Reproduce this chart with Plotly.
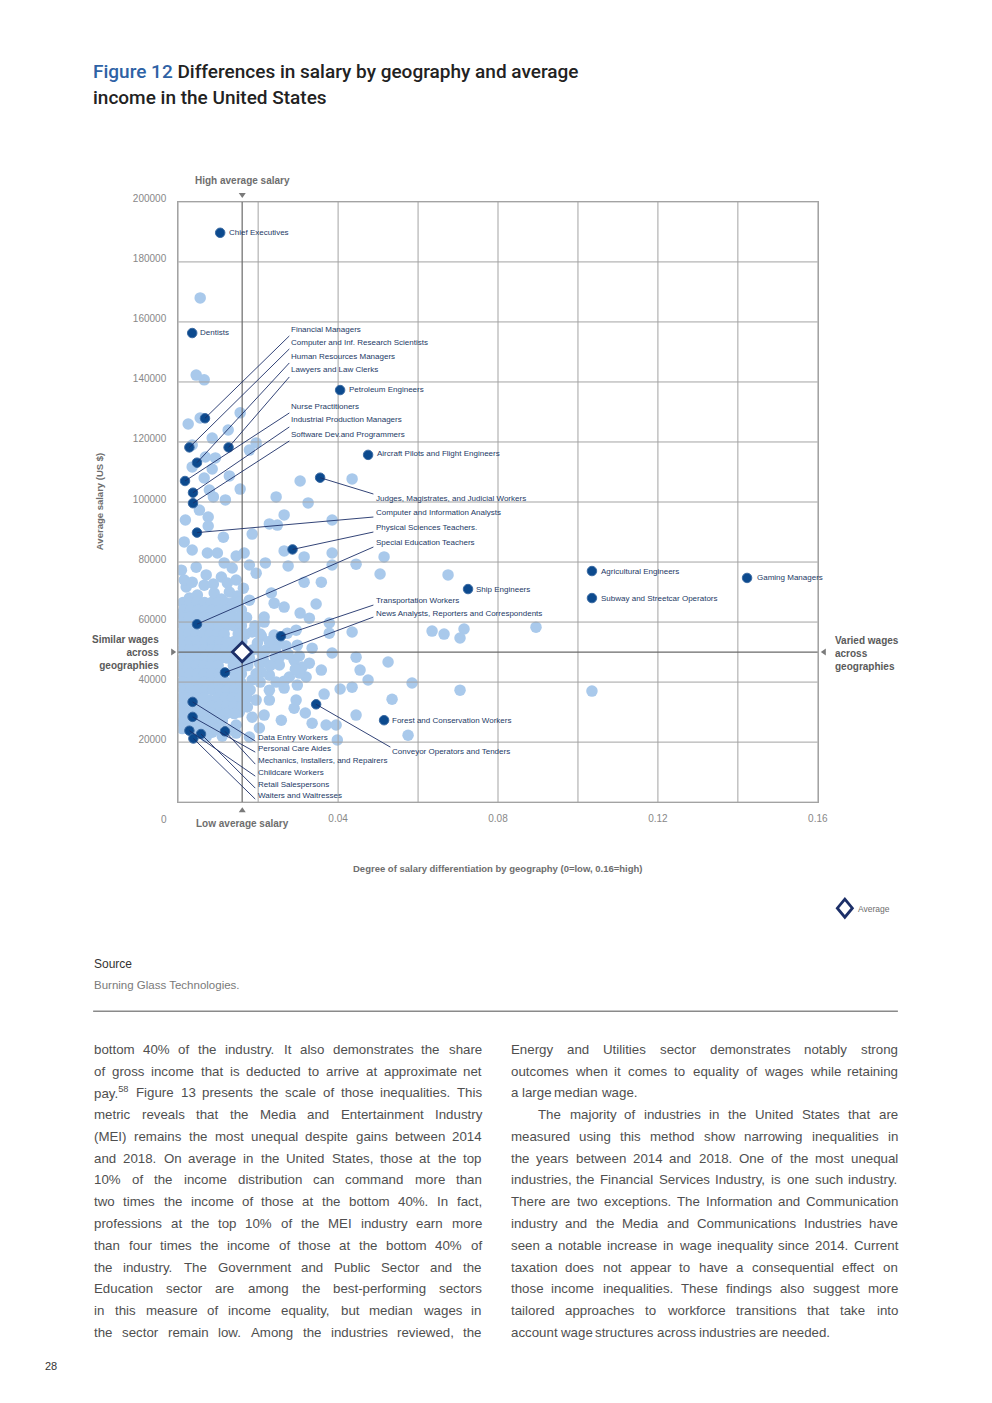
import plotly.graph_objects as go

# ---------------- DATA ----------------
x_tick_vals = [0.04, 0.08, 0.12, 0.16]
x_tick_text = ["0.04", "0.08", "0.12", "0.16"]
y_tick_vals = [20000, 40000, 60000, 80000, 100000, 120000, 140000, 160000, 180000, 200000]
y_tick_text = ["20000", "40000", "60000", "80000", "100000", "120000", "140000", "160000", "180000", "200000"]
x_grid_vals = [0, 0.02, 0.04, 0.06, 0.08, 0.10, 0.12, 0.14, 0.16]
y_grid_vals = [0, 20000, 40000, 60000, 80000, 100000, 120000, 140000, 160000, 180000, 200000]

avg_x = [0.016]
avg_y = [50000]

occupations = [
    "Chief Executives", "Dentists", "Financial Managers", "Computer and Inf. Research Scientists",
    "Human Resources Managers", "Lawyers and Law Clerks", "Petroleum Engineers", "Nurse Practitioners",
    "Industrial Production Managers", "Software Dev.and Programmers", "Aircraft Pilots and Flight Engineers",
    "Judges, Magistrates, and Judicial Workers", "Computer and Information Analysts",
    "Physical Sciences Teachers.", "Special Education Teachers", "Agricultural Engineers", "Gaming Managers",
    "Ship Engineers", "Subway and Streetcar Operators", "Transportation Workers",
    "News Analysts, Reporters and Correspondents", "Forest and Conservation Workers",
    "Conveyor Operators and Tenders", "Data Entry Workers", "Personal Care Aides",
    "Mechanics, Installers, and Repairers", "Childcare Workers", "Retail Salespersons", "Waiters and Waitresses",
]
occ_x = [0.0105, 0.0035, 0.0067, 0.0028, 0.0047, 0.0126, 0.0405, 0.0017, 0.0037, 0.0037, 0.0475,
         0.0355, 0.0047, 0.0286, 0.0047, 0.1035, 0.1423, 0.0725, 0.1035, 0.0257, 0.0117, 0.0515,
         0.0345, 0.0036, 0.0036, 0.0117, 0.0028, 0.0057, 0.0038]
occ_y = [189700, 156300, 127900, 118200, 113100, 118200, 137300, 107000, 103100, 99600, 115700,
         108100, 89800, 84200, 59300, 77000, 74700, 71000, 68000, 55300, 43200, 27300,
         32600, 33400, 28400, 23600, 23800, 22700, 21200]

# other occupations (light points), sparse part
other_x_a = [0.0055, 0.0045, 0.0065, 0.0025, 0.0055, 0.0155, 0.0125, 0.0085, 0.0195, 0.0178, 0.0035, 0.0068,
             0.0093, 0.0035, 0.0085, 0.0128, 0.0065, 0.0078, 0.0155, 0.0088, 0.0118, 0.0053, 0.0075, 0.0075,
             0.0018, 0.0305, 0.0435, 0.0245, 0.0325, 0.0265, 0.0228, 0.0248, 0.0385, 0.0185, 0.0113, 0.0015,
             0.0035, 0.0073, 0.0098, 0.0145, 0.0165, 0.0265, 0.0315, 0.0385, 0.0515, 0.0445, 0.0385, 0.0275,
             0.0218, 0.0178, 0.0505, 0.0675, 0.0195, 0.0315, 0.0358, 0.0008, 0.0045, 0.0070, 0.0115, 0.0135,
             0.0108, 0.0020, 0.0065, 0.0123, 0.0048, 0.0090, 0.0128, 0.0178, 0.0233, 0.0240, 0.0023, 0.0060,
             0.0115, 0.0158, 0.0215, 0.0040, 0.0073, 0.0265, 0.0345, 0.0305, 0.0328, 0.0378, 0.0435, 0.0215,
             0.0635, 0.0665, 0.0715, 0.0705, 0.0895, 0.0185, 0.0295, 0.0378, 0.0385, 0.0445, 0.0525, 0.0358,
             0.0455, 0.0475, 0.0435, 0.0405, 0.0585, 0.0705, 0.1035, 0.0365, 0.0535, 0.0290, 0.0318, 0.0445,
             0.0335, 0.0370, 0.0395, 0.0575, 0.0398, 0.0215, 0.0185, 0.0178, 0.0145, 0.0203, 0.0258, 0.0295,
             0.0228, 0.0195, 0.0173, 0.0228, 0.0265, 0.0298, 0.0320, 0.0278, 0.0228, 0.0185, 0.0310, 0.0290,
             0.0253, 0.0220, 0.0198, 0.0253, 0.0298, 0.0335, 0.0203, 0.0170, 0.0145, 0.0108, 0.0078, 0.0103,
             0.0070, 0.0153, 0.0110, 0.0145, 0.0070, 0.0010, 0.0058, 0.0085,
             0.0208, 0.0240, 0.0273, 0.0233, 0.0270, 0.0208, 0.0243, 0.0275, 0.0303, 0.0215, 0.0253, 0.0208,
             0.0265, 0.0303, 0.0328, 0.0293, 0.0015, 0.0035, 0.0088, 0.0145, 0.0163, 0.0028, 0.0108, 0.0148,
             0.0008, 0.0018, 0.0040, 0.0083, 0.0018, 0.0048, 0.0085, 0.0128, 0.0110]
other_y_a = [168000, 142300, 140700, 126000, 128000, 129700, 124000, 121300, 119700, 117300, 119000, 115000,
             114700, 111700, 111000, 108700, 108000, 104000, 104300, 101700, 100700, 97300, 95000, 92000,
             94000, 107000, 107700, 101700, 99700, 95700, 92700, 92300, 94000, 89300, 88300, 86700,
             84000, 83000, 83000, 82000, 83000, 83700, 81700, 83000, 81700, 79300, 79000, 78700,
             79700, 79000, 76000, 75700, 76300, 73300, 73300, 77300, 78300, 75700, 79700, 78000,
             75000, 71700, 72300, 73000, 69000, 69700, 70000, 67300, 69700, 66300, 64700, 66300,
             65700, 64000, 61700, 63000, 63300, 65000, 66000, 63000, 61300, 59700, 56700, 60000,
             57000, 56000, 57700, 54700, 58300, 56700, 57300, 56300, 49700, 48300, 46700, 44000,
             44000, 40700, 38300, 37700, 39700, 37300, 37000, 36000, 34300, 31300, 29700, 29000,
             26300, 25700, 25700, 22300, 20700, 29000, 28300, 21700, 25700, 24700, 27300, 34000,
             34000, 34000, 31700, 37300, 38000, 39000, 41700, 41700, 42300, 40700, 45000, 47300,
             48300, 50700, 53000, 53000, 52300, 51300, 46300, 38300, 34000, 35000, 34000, 30700,
             28300, 30000, 27300, 23000, 21700, 26700, 24700, 23300,
             55300, 55700, 56300, 53300, 52000, 50000, 48300, 49300, 48700, 46700, 45700, 43300,
             40300, 43000, 46300, 44300, 74000, 73300, 72700, 74000, 71300, 68000, 67700, 68700,
             62700, 30300, 30800, 31000, 25300, 26300, 24500, 24000, 22000]

# other occupations (light points), dense low-differentiation cluster
other_x_b = [0.0012, 0.0030, 0.0047, 0.0066, 0.0083, 0.0100, 0.0118, 0.0137, 0.0151,
             0.0014, 0.0031, 0.0050, 0.0068, 0.0085, 0.0103, 0.0120, 0.0134,
             0.0010, 0.0028, 0.0046, 0.0064, 0.0081, 0.0099, 0.0116, 0.0135, 0.0153, 0.0171,
             0.0013, 0.0032, 0.0065, 0.0084, 0.0102, 0.0121, 0.0139, 0.0158, 0.0192,
             0.0009, 0.0027, 0.0045, 0.0063, 0.0080, 0.0098, 0.0115, 0.0150, 0.0168, 0.0205,
             0.0012, 0.0030, 0.0048, 0.0067, 0.0086, 0.0104, 0.0122, 0.0140, 0.0159, 0.0228,
             0.0010, 0.0029, 0.0047, 0.0065, 0.0083, 0.0101, 0.0119, 0.0136, 0.0187, 0.0243,
             0.0013, 0.0031, 0.0049, 0.0068, 0.0086, 0.0105, 0.0123, 0.0141, 0.0160, 0.0178, 0.0212,
             0.0009, 0.0027, 0.0046, 0.0064, 0.0082, 0.0100, 0.0138, 0.0156, 0.0174, 0.0230,
             0.0012, 0.0030, 0.0048, 0.0066, 0.0085, 0.0103, 0.0140, 0.0158, 0.0195,
             0.0010, 0.0028, 0.0047, 0.0065, 0.0083, 0.0101, 0.0120, 0.0138, 0.0156, 0.0205, 0.0245,
             0.0013, 0.0031, 0.0049, 0.0068, 0.0086, 0.0105, 0.0123, 0.0141, 0.0160, 0.0180,
             0.0009, 0.0027, 0.0046, 0.0064, 0.0100, 0.0118, 0.0136, 0.0155, 0.0172,
             0.0012, 0.0030, 0.0048, 0.0066, 0.0085, 0.0103, 0.0121, 0.0139, 0.0160,
             0.0010, 0.0029, 0.0047, 0.0065, 0.0084, 0.0102, 0.0120, 0.0140,
             0.0013, 0.0031, 0.0050, 0.0068, 0.0090, 0.0110,
             0.0010, 0.0030, 0.0050, 0.0070, 0.0095]
other_y_b = [66500] * 9 + [64000] * 8 + [61500] * 10 + [58800] * 9 + [56000] * 10 + [53500] * 10 + \
            [50800] * 10 + [48000] * 11 + [45500] * 10 + [42800] * 9 + [40000] * 11 + [37400] * 10 + \
            [34800] * 9 + [32000] * 9 + [29500] * 8 + [27000] * 6 + [24500] * 5

# body text
left_lines = [
    "bottom 40% of the industry. It also demonstrates the share",
    "of gross income that is deducted to arrive at approximate net",
    "pay.<sup>58</sup> Figure 13 presents the scale of those inequalities. This",
    "metric reveals that the Media and Entertainment Industry",
    "(MEI) remains the most unequal despite gains between 2014",
    "and 2018. On average in the United States, those at the top",
    "10% of the income distribution can command more than",
    "two times the income of those at the bottom 40%. In fact,",
    "professions at the top 10% of the MEI industry earn more",
    "than four times the income of those at the bottom 40% of",
    "the industry. The Government and Public Sector and the",
    "Education sector are among the best-performing sectors",
    "in this measure of income equality, but median wages in",
    "the sector remain low. Among the industries reviewed, the",
]
right_lines = [
    "Energy and Utilities sector demonstrates notably strong",
    "outcomes when it comes to equality of wages while retaining",
    "a large median wage.",
    "The majority of industries in the United States that are",
    "measured using this method show narrowing inequalities in",
    "the years between 2014 and 2018. One of the most unequal",
    "industries, the Financial Services Industry, is one such industry.",
    "There are two exceptions. The Information and Communication",
    "industry and the Media and Communications Industries have",
    "seen a notable increase in wage inequality since 2014. Current",
    "taxation does not appear to have a consequential effect on",
    "those income inequalities. These findings also suggest more",
    "tailored approaches to workforce transitions that take into",
    "account wage structures across industries are needed.",
]
right_indent = [0, 0, 0, 28, 0, 0, 0, 0, 0, 0, 0, 0, 0, 0]
right_justify = [True, True, False, True, True, True, True, True, True, True, True, True, True, False]

# ---------------- LAYOUT HELPERS ----------------
PAGE_W, PAGE_H = 992, 1403
OFF = 8
FW, FH = PAGE_W - 2 * OFF, PAGE_H - 2 * OFF
# measured display transform of the rendered page (picture = S * page + C); compensated below
SX, CX = 0.9888, 1.05
SY, CY = 0.9938, 8.25
PX0, PX1, PY0, PY1 = 179, 818, 202, 802
XMAX, YMAX = 0.16, 200000


def pxp(x):  # target picture pixel -> paper fraction
    return ((x - CX) / SX - OFF) / FW


def pyp(y):
    return 1 - ((y - CY) / SY - OFF) / FH


def dx(px):  # picture pixel -> data x (for label anchors only)
    return (px - PX0) / (PX1 - PX0) * XMAX


def dy(py):
    return (PY1 - py) / (PY1 - PY0) * YMAX


# label anchor pixel positions (left, middle) and leader end points
label_pos = {
    "Chief Executives": ((229, 233), None),
    "Dentists": ((200, 333), None),
    "Financial Managers": ((291, 330), (290, 336)),
    "Computer and Inf. Research Scientists": ((291, 343), (290, 349)),
    "Human Resources Managers": ((291, 357), (290, 363)),
    "Lawyers and Law Clerks": ((291, 370), (290, 377)),
    "Petroleum Engineers": ((349, 390), None),
    "Nurse Practitioners": ((291, 407), (290, 413)),
    "Industrial Production Managers": ((291, 420), (290, 427)),
    "Software Dev.and Programmers": ((291, 435), (290, 441)),
    "Aircraft Pilots and Flight Engineers": ((377, 454), None),
    "Judges, Magistrates, and Judicial Workers": ((376, 498), (374, 494)),
    "Computer and Information Analysts": ((376, 512), (374, 517)),
    "Physical Sciences Teachers.": ((376, 527), (374, 532)),
    "Special Education Teachers": ((376, 542), (374, 547)),
    "Agricultural Engineers": ((600, 571), None),
    "Gaming Managers": ((756, 577), None),
    "Ship Engineers": ((476, 589), None),
    "Subway and Streetcar Operators": ((600, 598), None),
    "Transportation Workers": ((376, 600), (374, 605)),
    "News Analysts, Reporters and Correspondents": ((376, 613), (374, 617)),
    "Forest and Conservation Workers": ((392, 720), None),
    "Conveyor Operators and Tenders": ((392, 751), (391, 747)),
    "Data Entry Workers": ((258, 737), (256, 741)),
    "Personal Care Aides": ((258, 748), (256, 752)),
    "Mechanics, Installers, and Repairers": ((258, 760), (256, 764)),
    "Childcare Workers": ((258, 772), (256, 776)),
    "Retail Salespersons": ((258, 784), (256, 788)),
    "Waiters and Waitresses": ((258, 795), (256, 799)),
}

LIGHT = "#a9c9eb"
DARK = "#0c4a8e"
NAVY = "#1c2f68"
GRID = "#a3a3a3"
LABEL_COL = "#1d3a66"
GRAYTXT = "#6e6e6e"
FONT = "Liberation Sans"

fig = go.Figure()

# light points
fig.add_trace(go.Scatter(x=other_x_a + other_x_b, y=other_y_a + other_y_b, mode="markers",
                         marker=dict(size=11.5, color=LIGHT, line=dict(width=0)),
                         hoverinfo="skip", showlegend=False))

# grid lines drawn above the light points
gx, gy = [], []
for v in x_grid_vals:
    gx += [v, v, None]
    gy += [0, YMAX, None]
for v in y_grid_vals:
    gx += [0, XMAX, None]
    gy += [v, v, None]
fig.add_trace(go.Scatter(x=gx, y=gy, mode="lines", line=dict(color=GRID, width=1),
                         hoverinfo="skip", showlegend=False))

# average lines
fig.add_trace(go.Scatter(x=[avg_x[0], avg_x[0], None, 0, XMAX], y=[0, YMAX, None, avg_y[0], avg_y[0]],
                         mode="lines", line=dict(color="#6a6a6a", width=1.2),
                         hoverinfo="skip", showlegend=False))

# leader lines
for name, xv, yv in zip(occupations, occ_x, occ_y):
    (lx, ly), end = label_pos[name]
    if end is not None:
        fig.add_shape(type="line", xref="x", yref="y", x0=xv, y0=yv, x1=dx(end[0]), y1=dy(end[1]),
                      line=dict(color=NAVY, width=0.9), layer="above")

# highlighted occupations
fig.add_trace(go.Scatter(x=occ_x, y=occ_y, mode="markers", text=occupations,
                         marker=dict(size=9.5, color=DARK, line=dict(width=1, color="#3a6aa3")),
                         hoverinfo="text", showlegend=False))

# average diamond
fig.add_trace(go.Scatter(x=avg_x, y=avg_y, mode="markers",
                         marker=dict(symbol="diamond", size=15, color="white", line=dict(width=2.8, color=NAVY)),
                         showlegend=False, hoverinfo="skip"))

annotations = []


def ann(text, x, y, size=10, color=GRAYTXT, xanchor="left", yanchor="middle", family=FONT, weight=None,
        angle=0, align="left"):
    f = dict(size=size, color=color, family=family)
    if weight:
        f["weight"] = weight
    annotations.append(dict(text=text, x=pxp(x), y=pyp(y), xref="paper", yref="paper", showarrow=False,
                            xanchor=xanchor, yanchor=yanchor, font=f, textangle=angle, align=align,
                            borderpad=0))


def tri(points):
    p = " L ".join(f"{pxp(a)} {pyp(b)}" for a, b in points)
    fig.add_shape(type="path", xref="paper", yref="paper", path=f"M {p} Z",
                  line=dict(width=0), fillcolor="#7a7a7a")


# occupation labels
for name in occupations:
    (lx, ly), end = label_pos[name]
    ann(name, lx, ly, size=8, color=LABEL_COL)

# title
ann("<span style='color:#2e62a5'>Figure 12</span> Differences in salary by geography and average",
    93, 72, size=19, color="#222222", family="Roboto", weight=500)
ann("income in the United States", 93, 98, size=19, color="#222222", family="Roboto", weight=500)

# quadrant notes with pointer triangles
ann("High average salary", 243, 181, size=10, color=GRAYTXT, xanchor="center", weight=600)
tri([(239.5, 193), (246.5, 193), (243, 198)])
ann("Low average salary", 243, 823, size=10, color=GRAYTXT, xanchor="center", weight=600)
tri([(239.5, 812), (246.5, 812), (243, 807)])
ann("Similar wages<br>across<br>geographies", 161, 652, size=10, color="#5a5a5a", xanchor="right",
    align="right", weight=600)
tri([(172, 648.5), (172, 655.5), (177, 652)])
ann("Varied wages<br>across<br>geographies", 834, 653, size=10, color="#5a5a5a", xanchor="left",
    align="left", weight=600)
tri([(826, 648.5), (826, 655.5), (821, 652)])
ann("0", 165, 819, size=10, color="#888888", xanchor="center")

# axis titles
ann("Average salary (US $)", 100, 502, size=9.5, color=GRAYTXT, xanchor="center", angle=-90, weight=600)
ann("Degree of salary differentiation by geography (0=low, 0.16=high)", 498, 868, size=9.5,
    color=GRAYTXT, xanchor="center", weight=600)

# legend
fig.add_shape(type="path", xref="paper", yref="paper",
              path=f"M {pxp(845)} {pyp(899)} L {pxp(852.5)} {pyp(908)} L {pxp(845)} {pyp(917)} "
                   f"L {pxp(837.5)} {pyp(908)} Z",
              line=dict(color=NAVY, width=2.8), fillcolor="white")
ann("Average", 857, 909, size=8.5, color=GRAYTXT)

# source
ann("Source", 94, 964, size=12, color="#333333")
ann("Burning Glass Technologies.", 94, 985, size=11.5, color="#7a7a7a")
fig.add_shape(type="line", xref="paper", yref="paper", x0=pxp(94), x1=pxp(898), y0=pyp(1011), y1=pyp(1011),
              line=dict(color="#8a8a8a", width=1.5))

# page number
ann("28", 52, 1366, size=11, color="#333333", xanchor="center")

# ---------------- BODY TEXT (justified word by word) ----------------
AW = {' ': 278, '!': 278, '"': 355, '%': 889, "'": 191, '(': 333, ')': 333, ',': 278, '-': 333, '.': 278,
      '/': 278, ':': 278, ';': 278, '?': 556, '$': 556}
for d in "0123456789":
    AW[d] = 556
AW.update(dict(A=667, B=667, C=722, D=722, E=667, F=611, G=778, H=722, I=278, J=500, K=667, L=556, M=833,
               N=722, O=778, P=667, Q=778, R=722, S=667, T=611, U=722, V=667, W=944, X=667, Y=667, Z=611))
AW.update(dict(a=556, b=556, c=500, d=556, e=556, f=278, g=556, h=556, i=222, j=222, k=500, l=222, m=833,
               n=556, o=556, p=556, q=556, r=333, s=500, t=278, u=556, v=500, w=722, x=500, y=500, z=500))


def word_w(word, fs):
    if "<sup>" in word:
        base, rest = word.split("<sup>")
        sup = rest.replace("</sup>", "")
        return (sum(AW.get(c, 556) for c in base) + 0.7 * sum(AW.get(c, 556) for c in sup)) * fs / 1000
    return sum(AW.get(c, 556) for c in word) * fs / 1000


BODY_FS = 13.3
BODY_COL = "#4f4f4f"
COLW = 387 / SX  # column width in page px (picture width 387)


def place_column(lines, x0, indents, justify):
    for i, line in enumerate(lines):
        yc = 1049 + i * 21.78
        words = line.split(" ")
        widths = [word_w(w, BODY_FS) for w in words]
        avail = COLW - indents[i]
        if justify[i] and len(words) > 1:
            gap = (avail - sum(widths)) / (len(words) - 1)
        else:
            gap = AW[' '] * BODY_FS / 1000
        xc = (x0 - CX) / SX + indents[i]  # page px
        for w, wd in zip(words, widths):
            ann(w, xc * SX + CX, yc, size=BODY_FS, color=BODY_COL)
            xc += wd + gap


place_column(left_lines, 94, [0] * len(left_lines), [True] * len(left_lines))
place_column(right_lines, 510, right_indent, right_justify)

fig.update_layout(
    width=FW, height=FH, autosize=False, margin=dict(l=0, r=0, t=0, b=0, pad=0),
    paper_bgcolor="white", plot_bgcolor="white",
    annotations=annotations,
    font=dict(family=FONT),
    xaxis=dict(domain=[pxp(PX0), pxp(PX1)], range=[0, XMAX], tickvals=x_tick_vals, ticktext=x_tick_text,
               showgrid=False, zeroline=False, showline=True, linecolor=GRID, linewidth=1, mirror=True,
               ticks="", tickfont=dict(size=10, color="#888888", family=FONT), ticklabelstandoff=7,
               fixedrange=True),
    yaxis=dict(domain=[pyp(PY1), pyp(PY0)], range=[0, YMAX], tickvals=y_tick_vals, ticktext=y_tick_text,
               showgrid=False, zeroline=False, showline=True, linecolor=GRID, linewidth=1, mirror=True,
               ticks="", tickfont=dict(size=10, color="#888888", family=FONT), ticklabelstandoff=9,
               ticklabelshift=-3, fixedrange=True),
    showlegend=False,
)

fig.write_html("out.html", config={"displayModeBar": False, "responsive": False})
